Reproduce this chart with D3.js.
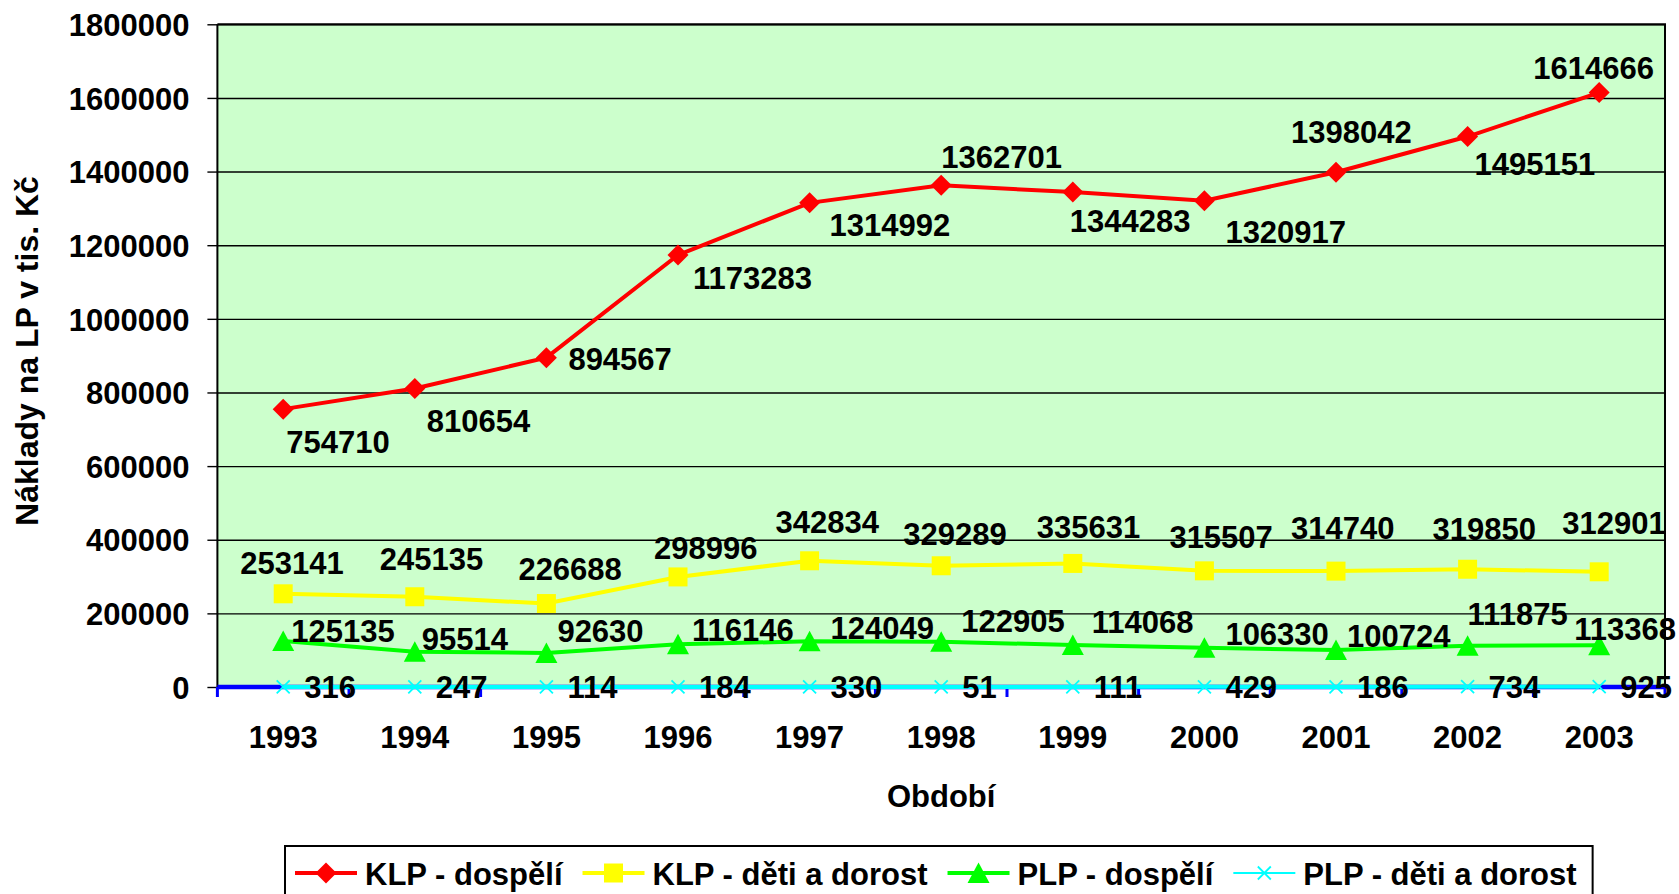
<!DOCTYPE html>
<meta charset="utf-8">
<style>

body {
  margin: 0;
  background: #fff;
}

text {
  font-family: "Liberation Sans", Arial, sans-serif;
  font-weight: bold;
  font-size: 31px;
  fill: #000;
}

.grid line {
  stroke: #000;
  stroke-width: 1.4px;
}

.grid path {
  display: none;
}

.line {
  fill: none;
  stroke-width: 4px;
}

</style>
<body>
  <script src="https://d3js.org/d3.v7.min.js"></script>
  <script>

    var years = ["1993", "1994", "1995", "1996", "1997", "1998", "1999", "2000", "2001", "2002", "2003"];
    var klpDospeli = [754710, 810654, 894567, 1173283, 1314992, 1362701, 1344283, 1320917, 1398042, 1495151, 1614666];
    var klpDeti = [253141, 245135, 226688, 298996, 342834, 329289, 335631, 315507, 314740, 319850, 312901];
    var plpDospeli = [125135, 95514, 92630, 116146, 124049, 122905, 114068, 106330, 100724, 111875, 113368];
    var plpDeti = [316, 247, 114, 184, 330, 51, 111, 429, 186, 734, 925];
    var yTicks = [0, 200000, 400000, 600000, 800000, 1000000, 1200000, 1400000, 1600000, 1800000];
    var seriesNames = ["KLP - dospělí", "KLP - děti a dorost", "PLP - dospělí", "PLP - děti a dorost"];

    // label offsets (left edge, baseline) from each point, as placed in the original
    var offKlpDospeli = [[3, 44], [12, 43], [22, 12], [15, 34], [20, 33], [0, -17], [-3, 40], [21, 42], [-45, -29], [7, 38], [-66, -14]];
    var offKlpDeti = [[-43, -20], [-35, -27], [-28, -24], [-24, -18], [-34, -28], [-38, -21], [-36, -25], [-35, -23], [-45, -32], [-35, -29], [-37, -38]];
    var offPlpDospeli = [[8, 1], [7, -2], [11, -11], [14, -3], [21, -2], [20, -10], [19, -12], [21, -3], [11, -3], [0, -21], [-25, -5]];
    var offPlpDeti = years.map(function() { return [21, 11]; });

    var plotL = 217.4, plotR = 1665, plotT = 24.3, plotB = 687;

    var svg = d3.select("body").append("svg")
        .attr("width", 1679)
        .attr("height", 894);

    var x = d3.scaleBand()
        .domain(years)
        .range([plotL, plotR]);

    var y = d3.scaleLinear()
        .domain([0, 1800000])
        .range([plotB, plotT]);

    function cx(i) { return x(years[i]) + x.bandwidth() / 2; }

    // plot background
    svg.append("rect")
        .attr("x", plotL)
        .attr("y", plotT)
        .attr("width", plotR - plotL)
        .attr("height", plotB - plotT)
        .attr("fill", "#ccffcc");

    // gridlines
    svg.append("g")
        .attr("class", "grid")
        .attr("transform", "translate(" + plotL + ",0)")
        .call(d3.axisLeft(y).tickValues(yTicks.slice(1)).tickSize(-(plotR - plotL)).tickFormat(""));

    // y axis
    var yAxis = svg.append("g")
        .attr("transform", "translate(" + plotL + ",0)")
        .call(d3.axisLeft(y).tickValues(yTicks).tickSize(10).tickPadding(18).tickFormat(d3.format("d")));
    yAxis.select(".domain").remove();
    yAxis.selectAll("line").attr("stroke", "#000").attr("stroke-width", 1.4);
    yAxis.attr("font-size", null).attr("font-family", null);
    yAxis.selectAll("text")
        .attr("dy", "0.36em");

    svg.append("line")
        .attr("x1", plotL).attr("x2", plotL)
        .attr("y1", plotT).attr("y2", plotB)
        .attr("stroke", "#000").attr("stroke-width", 2);
    svg.append("path")
        .attr("d", "M" + plotL + "," + plotT + "H" + plotR + "V" + plotB)
        .attr("fill", "none")
        .attr("stroke", "#000").attr("stroke-width", 2);

    // x axis (blue)
    svg.append("line")
        .attr("x1", plotL).attr("x2", plotR)
        .attr("y1", y(0)).attr("y2", y(0))
        .attr("stroke", "#0000ff").attr("stroke-width", 4.5);
    svg.selectAll(".xtick")
        .data(years.map(function(d) { return x(d); }).concat([plotR]))
      .enter().append("line")
        .attr("x1", function(d) { return d; })
        .attr("x2", function(d) { return d; })
        .attr("y1", y(0))
        .attr("y2", y(0) + 10)
        .attr("stroke", "#0000ff")
        .attr("stroke-width", 3);

    svg.selectAll(".xlabel")
        .data(years)
      .enter().append("text")
        .attr("x", function(d) { return x(d) + x.bandwidth() / 2; })
        .attr("y", 748)
        .attr("text-anchor", "middle")
        .text(function(d) { return d; });

    // axis titles
    svg.append("text")
        .attr("x", (plotL + plotR) / 2)
        .attr("y", 807)
        .attr("text-anchor", "middle")
        .text("Období");

    svg.append("text")
        .attr("transform", "translate(38," + 351 + ") rotate(-90)")
        .attr("text-anchor", "middle")
        .style("font-size", "32px")
        .text("Náklady na LP v tis. Kč");

    // markers
    var markers = {
      diamond: "M0,-10.5L10.5,0L0,10.5L-10.5,0Z",
      square: "M-9.5,-9.5H9.5V9.5H-9.5Z",
      triangle: "M0,-10.5L11,10L-11,10Z",
      cross: "M-6.5,-6.5L6.5,6.5M-6.5,6.5L6.5,-6.5"
    };

    var series = [
      {name: seriesNames[0], values: klpDospeli, offsets: offKlpDospeli, color: "#ff0000", marker: "diamond", width: 4},
      {name: seriesNames[1], values: klpDeti, offsets: offKlpDeti, color: "#ffff00", marker: "square", width: 4},
      {name: seriesNames[2], values: plpDospeli, offsets: offPlpDospeli, color: "#00ff00", marker: "triangle", width: 4.5},
      {name: seriesNames[3], values: plpDeti, offsets: offPlpDeti, color: "#00ffff", marker: "cross", width: 2}
    ];

    var line = d3.line()
        .x(function(d, i) { return cx(i); })
        .y(function(d) { return y(d); });

    // lines and markers, cyan drawn last so it sits on the blue axis
    series.slice().reverse().sort(function(a, b) {
      return (a.marker == "cross") - (b.marker == "cross");
    }).forEach(function(s) {
      var g = svg.append("g");
      g.append("path")
          .datum(s.values)
          .attr("class", "line")
          .attr("stroke", s.color)
          .attr("stroke-width", s.width)
          .attr("d", line);
      g.selectAll(".mk")
          .data(s.values)
        .enter().append("path")
          .attr("transform", function(d, i) { return "translate(" + cx(i) + "," + y(d) + ")"; })
          .attr("d", markers[s.marker])
          .attr("fill", s.marker == "cross" ? "none" : s.color)
          .attr("stroke", s.marker == "cross" ? s.color : "none")
          .attr("stroke-width", 1.8);
    });

    // data labels
    series.forEach(function(s) {
      svg.append("g").selectAll("text")
          .data(s.values)
        .enter().append("text")
          .attr("x", function(d, i) { return cx(i) + s.offsets[i][0]; })
          .attr("y", function(d, i) { return y(d) + s.offsets[i][1]; })
          .text(function(d) { return d; });
    });

    // legend
    var legend = svg.append("g");
    var lx = 295, ly = 873;
    series.forEach(function(s) {
      var it = legend.append("g").attr("transform", "translate(" + lx + "," + ly + ")");
      it.append("line")
          .attr("x1", 0).attr("x2", 62)
          .attr("stroke", s.color)
          .attr("stroke-width", s.marker == "cross" ? 2 : 4);
      it.append("path")
          .attr("transform", "translate(31,0)")
          .attr("d", markers[s.marker])
          .attr("fill", s.marker == "cross" ? "none" : s.color)
          .attr("stroke", s.marker == "cross" ? s.color : "none")
          .attr("stroke-width", 1.8);
      var t = it.append("text")
          .attr("x", 70)
          .attr("y", 12)
          .text(s.name);
      lx += 70 + t.node().getComputedTextLength() + 20;
    });
    legend.insert("rect", ":first-child")
        .attr("x", 285)
        .attr("y", 846)
        .attr("width", lx - 20 + 16 - 285)
        .attr("height", 70)
        .attr("fill", "#fff")
        .attr("stroke", "#000")
        .attr("stroke-width", 2);

  </script>
</body>
</html>
